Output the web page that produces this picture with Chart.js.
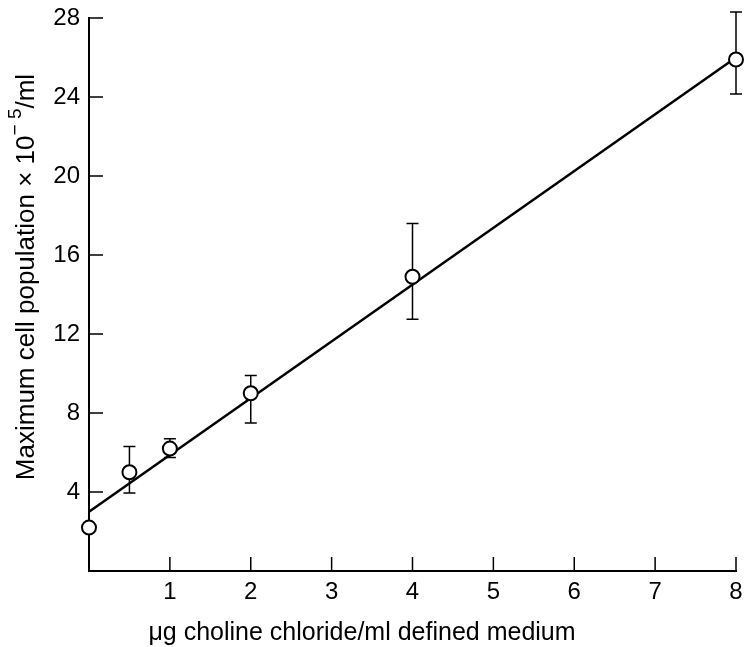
<!DOCTYPE html>
<html lang="en">
  <head>
    <meta charset="UTF-8" />
    <title>Maximum cell population vs choline chloride</title>
    <script src="https://cdn.jsdelivr.net/npm/chart.js"></script>
    <style>
      html,
      body {
        margin: 0;
        padding: 0;
        background: #fff;
      }
      #wrap {
        width: 745px;
        height: 647px;
      }
    </style>
  </head>
  <body>
    <div id="wrap">
      <canvas id="cholineChart" width="745" height="647"></canvas>
    </div>

    <script>
      // values
      const doses = [0, 0.5, 1, 2, 4, 8];
      const population = [2.2, 5.0, 6.2, 9.0, 14.9, 25.9];
      const errHigh = [null, 6.3, 6.7, 9.9, 17.6, 28.3];
      const errLow = [null, 3.95, 5.75, 7.5, 12.75, 24.15];
      const fitX = [0, 8];
      const fitY = [3.0, 26.0];
      const xTicks = [1, 2, 3, 4, 5, 6, 7, 8];
      const yTicks = [4, 8, 12, 16, 20, 24, 28];

      const FONT = "'Liberation Sans', Arial, Helvetica, sans-serif";
      Chart.defaults.font.family = FONT;
      Chart.defaults.color = "#000";

      // short ticks pointing into the plot area
      const inwardTicks = {
        id: "inwardTicks",
        afterDatasetsDraw(chart) {
          const { ctx, chartArea, scales } = chart;
          ctx.save();
          ctx.strokeStyle = "#000";
          ctx.lineWidth = 1.5;
          ctx.beginPath();
          xTicks.forEach((v) => {
            const px = scales.x.getPixelForValue(v);
            ctx.moveTo(px, chartArea.bottom);
            ctx.lineTo(px, chartArea.bottom - 14);
          });
          yTicks.forEach((v) => {
            const py = scales.y.getPixelForValue(v);
            ctx.moveTo(chartArea.left, py);
            ctx.lineTo(chartArea.left + 14, py);
          });
          ctx.stroke();
          ctx.restore();
        },
      };

      // vertical error bars with caps, drawn under the circles
      const errorBars = {
        id: "errorBars",
        beforeDatasetsDraw(chart) {
          const { ctx, scales } = chart;
          ctx.save();
          ctx.strokeStyle = "#000";
          ctx.lineWidth = 1.5;
          doses.forEach((d, i) => {
            if (errHigh[i] == null) return;
            const px = scales.x.getPixelForValue(d);
            const top = scales.y.getPixelForValue(errHigh[i]);
            const bot = scales.y.getPixelForValue(errLow[i]);
            ctx.beginPath();
            ctx.moveTo(px, top);
            ctx.lineTo(px, bot);
            ctx.moveTo(px - 6, top);
            ctx.lineTo(px + 6, top);
            ctx.moveTo(px - 6, bot);
            ctx.lineTo(px + 6, bot);
            ctx.stroke();
          });
          ctx.restore();
        },
      };

      // axis titles (y title has a real superscript)
      const axisTitles = {
        id: "axisTitles",
        afterDraw(chart) {
          const { ctx } = chart;
          ctx.save();
          ctx.fillStyle = "#000";
          ctx.textBaseline = "middle";

          ctx.font = "25px " + FONT;
          ctx.textAlign = "center";
          ctx.fillText("\u03BCg choline chloride/ml defined medium", 362, 633);

          const big = "26px " + FONT;
          const small = "19px " + FONT;
          const parts = [
            { t: "Maximum cell population \u00D7 10", f: big, dy: 0 },
            { t: "\u2212 5", f: small, dy: -11 },
            { t: "/ml", f: big, dy: 0 },
          ];
          let total = 0;
          parts.forEach((p) => {
            ctx.font = p.f;
            p.w = ctx.measureText(p.t).width;
            total += p.w;
          });
          ctx.translate(27, 277);
          ctx.rotate(-Math.PI / 2);
          ctx.textAlign = "left";
          let x = -total / 2;
          parts.forEach((p) => {
            ctx.font = p.f;
            ctx.fillText(p.t, x, p.dy);
            x += p.w;
          });
          ctx.restore();
        },
      };

      new Chart(document.getElementById("cholineChart"), {
        type: "scatter",
        data: {
          datasets: [
            {
              label: "Observed",
              data: doses.map((d, i) => ({ x: d, y: population[i] })),
              pointRadius: 7,
              pointHoverRadius: 7,
              pointBackgroundColor: "#fff",
              pointBorderColor: "#000",
              pointBorderWidth: 2,
              showLine: false,
              clip: false,
            },
            {
              label: "Fit",
              data: fitX.map((x, i) => ({ x: x, y: fitY[i] })),
              showLine: true,
              borderColor: "#000",
              borderWidth: 2.5,
              pointRadius: 0,
              fill: false,
              clip: false,
            },
          ],
        },
        options: {
          responsive: false,
          animation: false,
          events: [],
          layout: { padding: { top: 18, right: 4, left: 0, bottom: 0 } },
          plugins: {
            legend: { display: false },
            tooltip: { enabled: false },
          },
          scales: {
            x: {
              type: "linear",
              min: 0,
              max: 8,
              afterBuildTicks: (scale) => {
                scale.ticks = xTicks.map((v) => ({ value: v }));
              },
              afterFit: (scale) => {
                scale.height = 76;
                scale.paddingLeft = 0;
                scale.paddingRight = 0;
              },
              grid: { display: false, drawTicks: false },
              border: { display: true, color: "#000", width: 2 },
              ticks: { color: "#000", font: { size: 24 }, padding: 7 },
            },
            y: {
              type: "linear",
              min: 0,
              max: 28,
              afterBuildTicks: (scale) => {
                scale.ticks = yTicks.map((v) => ({ value: v }));
              },
              afterFit: (scale) => {
                scale.width = 89;
                scale.paddingTop = 0;
                scale.paddingBottom = 0;
              },
              grid: { display: false, drawTicks: false },
              border: { display: true, color: "#000", width: 2 },
              ticks: { color: "#000", font: { size: 24 }, padding: 9 },
            },
          },
        },
        plugins: [errorBars, inwardTicks, axisTitles],
      });
    </script>
  </body>
</html>
